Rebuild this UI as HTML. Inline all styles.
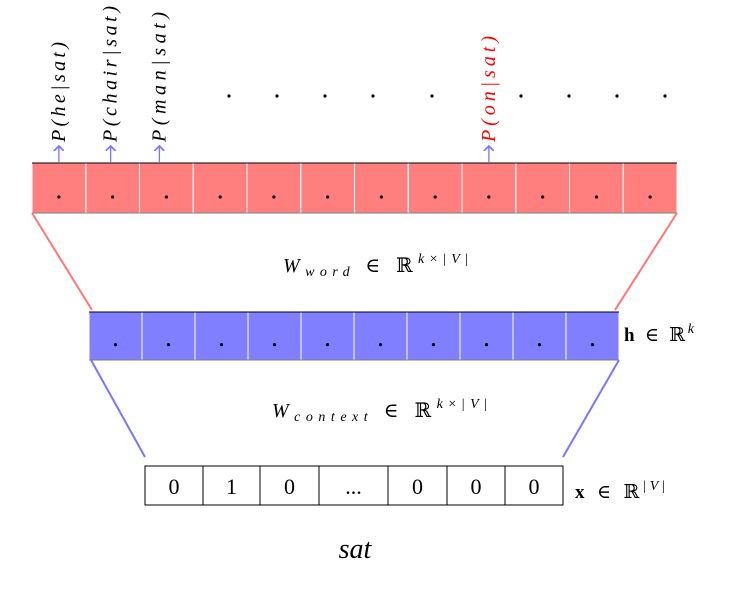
<!DOCTYPE html>
<html><head><meta charset="utf-8"><style>
body{margin:0;background:#fff;}
svg text{font-family:"Liberation Serif","DejaVu Serif",serif;}
</style></head><body>
<svg width="752" height="596" viewBox="0 0 752 596">
<defs><marker id="ah" markerWidth="8" markerHeight="8" refX="4" refY="4" orient="auto"><path d="M0,0 L4,4 L0,8" fill="none" stroke="#7777ff" stroke-width="1.3"/></marker></defs>
<g id="topg"></g>
<g id="midg"></g>
<g id="botg"></g>
<line x1="32" y1="213" x2="92" y2="310" stroke="#ff7777" stroke-width="2"/>
<line x1="677" y1="213" x2="615" y2="310" stroke="#ff7777" stroke-width="2"/>
<line x1="91" y1="360" x2="145" y2="457" stroke="#7777ff" stroke-width="2"/>
<line x1="619" y1="360" x2="563" y2="457" stroke="#7777ff" stroke-width="2"/>
<text x="283" y="272" font-size="20" textLength="185" lengthAdjust="spacing"><tspan font-style="italic">W</tspan><tspan font-style="italic" font-size="14" dy="4">word</tspan><tspan dy="-4"> ∈ ℝ</tspan><tspan font-size="14" dy="-9" font-style="italic">k</tspan><tspan font-size="14">×|</tspan><tspan font-size="14" font-style="italic">V</tspan><tspan font-size="14">|</tspan></text>
<text x="272" y="417" font-size="20" textLength="215" lengthAdjust="spacing"><tspan font-style="italic">W</tspan><tspan font-style="italic" font-size="14" dy="4">context</tspan><tspan dy="-4"> ∈ ℝ</tspan><tspan font-size="14" dy="-9" font-style="italic">k</tspan><tspan font-size="14">×|</tspan><tspan font-size="14" font-style="italic">V</tspan><tspan font-size="14">|</tspan></text>
<text x="624" y="341" font-size="19" textLength="70" lengthAdjust="spacing"><tspan font-weight="bold">h</tspan> ∈ ℝ<tspan font-size="14" dy="-8" font-style="italic">k</tspan></text>
<text x="575" y="498" font-size="19" textLength="90" lengthAdjust="spacing"><tspan font-weight="bold">x</tspan> ∈ ℝ<tspan font-size="14" dy="-8">|</tspan><tspan font-size="14" font-style="italic">V</tspan><tspan font-size="14">|</tspan></text>
<text x="355" y="558" font-size="28" font-style="italic" text-anchor="middle">sat</text>
</svg>
<script>
const NS="http://www.w3.org/2000/svg";
const topCells=12, midCells=10;
const inputValues=["0","1","0","...","0","0","0"];
const inputEdges=[145,203,260,319,388,447,505,563];
const labels=[["P(he|sat)",0,"#000"],["P(chair|sat)",1,"#000"],["P(man|sat)",2,"#000"],["P(on|sat)",8,"#ff0000"]];
const labelLens=[100,136,130,106];
const dotXs=[229,277,325,373,432,521,569,617,665];
function mk(p,t,a){const e=document.createElementNS(NS,t);for(const k in a)e.setAttribute(k,a[k]);p.appendChild(e);return e;}
function bar(g,x0,x1,y0,y1,n,fill,nm){
 mk(g,'rect',{x:x0,y:y0,width:x1-x0,height:y1-y0,fill:fill});
 const w=(x1-x0)/n;
 for(let i=0;i<n;i++){
  const c=mk(g,'rect',{x:x0+i*w,y:y0,width:w,height:y1-y0,fill:'none',stroke:'#fff','stroke-width':1});
  
  
  mk(g,'circle',{cx:x0+(i+0.5)*w,cy:y0+(y1-y0)*0.68,r:1.6,fill:'#000'});
 }
 mk(g,'line',{x1:x0,y1:y0,x2:x1,y2:y0,stroke:'#000','stroke-width':1});
 mk(g,'line',{x1:x0,y1:y1,x2:x1,y2:y1,stroke:'#000','stroke-width':0.6});
 return w;
}
const topG=document.getElementById('topg');
const tw=bar(topG,32,677,163,213,topCells,'#ff7f7f','output');
bar(document.getElementById('midg'),89,619,312,360,midCells,'#7f7fff','hidden');
labels.forEach((l,i)=>{
 const cx=32+(l[1]+0.5)*tw - (l[1]===2?7:(l[1]===1?2:0));
 mk(topG,'line',{x1:cx,y1:162,x2:cx,y2:146,stroke:'#7777ff','stroke-width':1.3,'marker-end':'url(#ah)'});
 const t=mk(topG,'text',{x:0,y:0,'font-size':20,'font-style':'italic',fill:l[2],textLength:labelLens[i],lengthAdjust:'spacing',transform:`translate(${cx+6},142) rotate(-90)`});
 t.textContent=l[0];
 
 
});
dotXs.forEach(x=>mk(topG,'circle',{cx:x,cy:96,r:1.6,fill:'#000'}));
const botG=document.getElementById('botg');
inputValues.forEach((v,i)=>{
 const x0=inputEdges[i],x1=inputEdges[i+1];
 const r=mk(botG,'rect',{x:x0,y:466,width:x1-x0,height:39,fill:'#fff',stroke:'#000','stroke-width':1});
 
 
 const t=mk(botG,'text',{x:(x0+x1)/2,y:494,'font-size':22,'text-anchor':'middle'});
 t.textContent=v;
});
</script>
</body></html>
